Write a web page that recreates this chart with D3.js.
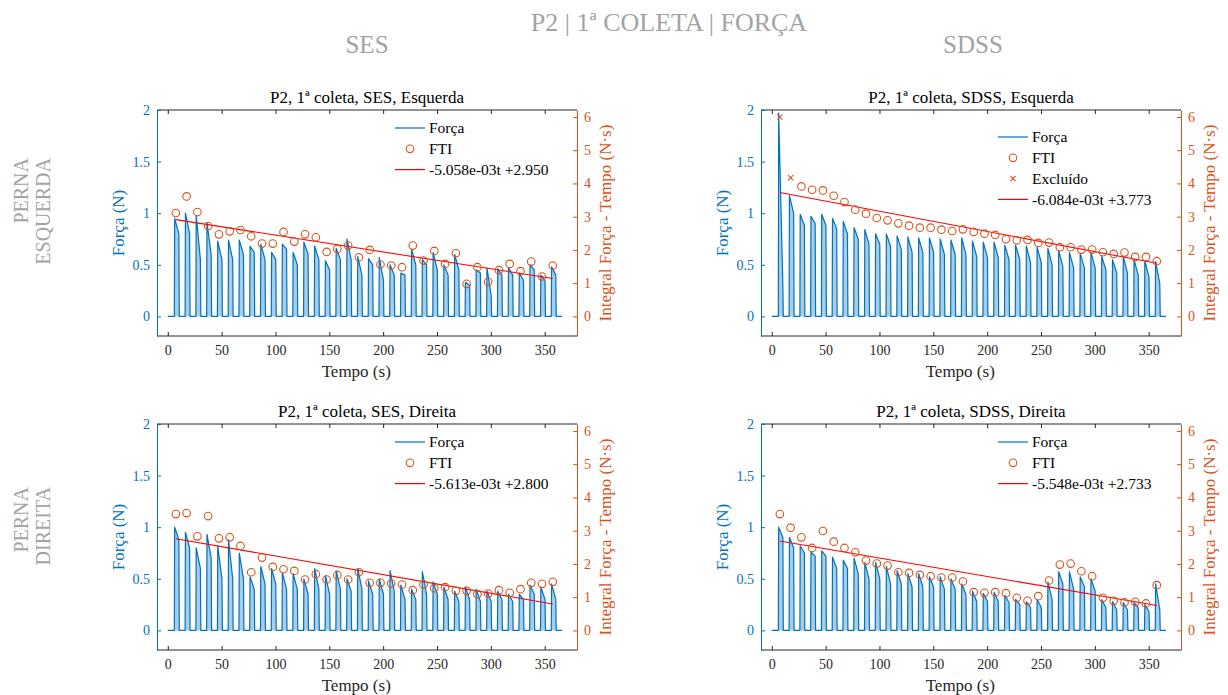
<!DOCTYPE html>
<html>
<head>
<meta charset="utf-8">
<script src="https://cdn.jsdelivr.net/npm/d3@7"></script>
<style>
  body { margin: 0; background: #fff; }
  text { font-family: "Liberation Serif", "DejaVu Serif", serif; }
</style>
</head>
<body>
<svg width="1228" height="695"></svg>
<script>
// cycle times (s), one FTI point per contraction
const cycleT = [7.5, 17.5, 27.5, 37.5, 47.5, 57.5, 67.5, 77.5, 87.5, 97.5, 107.5, 117.5,
  127.5, 137.5, 147.5, 157.5, 167.5, 177.5, 187.5, 197.5, 207.5, 217.5, 227.5, 237.5,
  247.5, 257.5, 267.5, 277.5, 287.5, 297.5, 307.5, 317.5, 327.5, 337.5, 347.5, 357.5];
const xTicks = [0, 50, 100, 150, 200, 250, 300, 350];
const yLeftTicks = [0, 0.5, 1, 1.5, 2];
const yRightTicks = [0, 1, 2, 3, 4, 5, 6];

// SES, Esquerda
const sesEsqPeak = [0.95, 1.00, 0.98, 0.91, 0.73, 0.74, 0.74, 0.68, 0.70, 0.62, 0.70, 0.62, 0.72, 0.68, 0.54, 0.66, 0.75, 0.58,
  0.56, 0.57, 0.50, 0.42, 0.65, 0.55, 0.62, 0.50, 0.60, 0.33, 0.45, 0.47, 0.46, 0.47, 0.42, 0.50, 0.40, 0.48];
const sesEsqEnd = [0.80, 0.80, 0.55, 0.60, 0.55, 0.55, 0.60, 0.62, 0.55, 0.55, 0.65, 0.50, 0.60, 0.55, 0.45, 0.55, 0.55, 0.40,
  0.50, 0.35, 0.40, 0.40, 0.50, 0.50, 0.45, 0.40, 0.45, 0.30, 0.42, 0.20, 0.40, 0.40, 0.35, 0.45, 0.35, 0.40];
const sesEsqFti = [3.11, 3.61, 3.14, 2.72, 2.47, 2.56, 2.60, 2.41, 2.19, 2.19, 2.54, 2.25, 2.47, 2.38, 1.94, 2.03, 2.13, 1.78,
  2.00, 1.56, 1.53, 1.48, 2.13, 1.68, 1.97, 1.58, 1.90, 0.98, 1.48, 1.04, 1.39, 1.58, 1.36, 1.65, 1.20, 1.53];

// SDSS, Esquerda
const sdssEsqPeak = [1.97, 1.17, 0.99, 0.97, 0.99, 0.95, 0.92, 0.86, 0.84, 0.80, 0.80, 0.78, 0.77, 0.76, 0.76, 0.75, 0.74, 0.76,
  0.73, 0.72, 0.72, 0.69, 0.69, 0.68, 0.67, 0.66, 0.64, 0.62, 0.61, 0.62, 0.58, 0.55, 0.58, 0.55, 0.54, 0.53];
const sdssEsqEnd = [0.30, 1.00, 0.88, 0.90, 0.88, 0.85, 0.80, 0.75, 0.70, 0.70, 0.68, 0.65, 0.62, 0.62, 0.62, 0.60, 0.60, 0.60,
  0.58, 0.57, 0.57, 0.55, 0.55, 0.52, 0.52, 0.50, 0.48, 0.47, 0.47, 0.47, 0.45, 0.42, 0.42, 0.40, 0.38, 0.32];
const sdssEsqFti = [null, null, 3.91, 3.81, 3.79, 3.63, 3.44, 3.21, 3.09, 2.96, 2.89, 2.80, 2.73, 2.67, 2.67, 2.61, 2.57, 2.62,
  2.54, 2.49, 2.45, 2.32, 2.29, 2.30, 2.21, 2.22, 2.08, 2.08, 2.01, 2.01, 1.93, 1.88, 1.92, 1.79, 1.79, 1.66];
const sdssEsqExcl = [6.00, 4.17];

// SES, Direita
const sesDirPeak = [1.00, 0.95, 0.80, 0.93, 0.82, 0.88, 0.75, 0.52, 0.62, 0.60, 0.56, 0.55, 0.50, 0.60, 0.53, 0.58, 0.50, 0.60,
  0.48, 0.50, 0.58, 0.44, 0.40, 0.57, 0.47, 0.42, 0.38, 0.42, 0.40, 0.38, 0.38, 0.35, 0.35, 0.44, 0.42, 0.45];
const sesDirEnd = [0.88, 0.80, 0.60, 0.70, 0.50, 0.50, 0.50, 0.40, 0.45, 0.45, 0.40, 0.40, 0.35, 0.40, 0.35, 0.40, 0.38, 0.40,
  0.35, 0.35, 0.38, 0.30, 0.30, 0.35, 0.35, 0.30, 0.28, 0.30, 0.28, 0.28, 0.30, 0.28, 0.30, 0.35, 0.30, 0.30];
const sesDirFti = [3.50, 3.53, 2.83, 3.44, 2.77, 2.80, 2.54, 1.75, 2.19, 1.91, 1.84, 1.79, 1.53, 1.69, 1.53, 1.66, 1.53, 1.75,
  1.43, 1.43, 1.41, 1.38, 1.21, 1.38, 1.27, 1.30, 1.19, 1.19, 1.09, 1.11, 1.21, 1.13, 1.24, 1.43, 1.40, 1.46];

// SDSS, Direita
const sdssDirPeak = [1.00, 0.90, 0.82, 0.76, 0.77, 0.71, 0.68, 0.70, 0.66, 0.66, 0.62, 0.58, 0.55, 0.55, 0.52, 0.52, 0.50, 0.45,
  0.38, 0.36, 0.37, 0.34, 0.30, 0.28, 0.30, 0.47, 0.57, 0.57, 0.52, 0.50, 0.30, 0.28, 0.27, 0.27, 0.25, 0.45];
const sdssDirEnd = [0.90, 0.80, 0.75, 0.72, 0.72, 0.60, 0.60, 0.55, 0.50, 0.50, 0.45, 0.45, 0.42, 0.42, 0.42, 0.40, 0.40, 0.35,
  0.28, 0.28, 0.28, 0.27, 0.25, 0.22, 0.22, 0.30, 0.45, 0.40, 0.42, 0.38, 0.22, 0.20, 0.20, 0.22, 0.18, 0.20];
const sdssDirFti = [3.50, 3.09, 2.80, 2.48, 2.99, 2.67, 2.48, 2.35, 2.10, 2.01, 1.95, 1.75, 1.73, 1.67, 1.63, 1.59, 1.59, 1.47,
  1.15, 1.13, 1.15, 1.12, 0.98, 0.89, 1.03, 1.50, 1.98, 2.01, 1.78, 1.63, 0.98, 0.89, 0.84, 0.86, 0.81, 1.36];

// linear fits: slope, intercept
const fitSlope = [-5.058e-3, -6.084e-3, -5.613e-3, -5.548e-3];
const fitIntercept = [2.950, 3.773, 2.800, 2.733];

const blue = '#0072BD', orange = '#D95319', dark = '#262626', gray = '#a3a3a3';

const panels = [
  {left: 157, top: 110, title: 'P2, 1ª coleta, SES, Esquerda', peak: sesEsqPeak, end: sesEsqEnd, fti: sesEsqFti, excl: null, legX: 395, legY: 128},
  {left: 761, top: 110, title: 'P2, 1ª coleta, SDSS, Esquerda', peak: sdssEsqPeak, end: sdssEsqEnd, fti: sdssEsqFti, excl: sdssEsqExcl, legX: 998, legY: 137},
  {left: 157, top: 424, title: 'P2, 1ª coleta, SES, Direita', peak: sesDirPeak, end: sesDirEnd, fti: sesDirFti, excl: null, legX: 395, legY: 442},
  {left: 761, top: 424, title: 'P2, 1ª coleta, SDSS, Direita', peak: sdssDirPeak, end: sdssDirEnd, fti: sdssDirFti, excl: null, legX: 998, legY: 442}
];
const pw = 420, ph = 226;

const svg = d3.select('svg');

function fmtFit(a, b) {
  const [m, e] = a.toExponential(3).split('e');
  const ee = (e[0] === '-' ? '-' : '+') + String(Math.abs(+e)).padStart(2, '0');
  return `${m}e${ee}t +${b.toFixed(3)}`;
}

panels.forEach((p, k) => {
  const g = svg.append('g').attr('transform', `translate(${p.left},${p.top})`);

  const x = d3.scaleLinear().domain([-10, 380]).range([0, pw]);
  const yL = d3.scaleLinear().domain([-0.19, 2]).range([ph, 0]);
  const yR = d3.scaleLinear().domain([-0.59, 6.21]).range([ph, 0]);

  // force trace: baseline, then each contraction (rise, peak, decay, release)
  const trace = [[0, 0]];
  cycleT.forEach((t, i) => {
    trace.push([t - 1.4, 0], [t - 1.1, p.peak[i]], [t + 2.8, p.end[i]], [t + 3.2, 0]);
  });
  trace.push([366, 0]);
  g.append('path')
    .attr('d', d3.area().x(d => x(d[0])).y0(yL(0)).y1(d => yL(d[1]))(trace))
    .attr('fill', blue).attr('fill-opacity', 0.35).attr('stroke', 'none');
  g.append('path')
    .attr('d', d3.line().x(d => x(d[0])).y(d => yL(d[1]))(trace))
    .attr('fill', 'none').attr('stroke', blue).attr('stroke-width', 1.2)
    .attr('stroke-linejoin', 'round');

  // fit line (right axis)
  const t0 = cycleT[0], t1 = cycleT[cycleT.length - 1];
  g.append('line')
    .attr('x1', x(t0)).attr('y1', yR(fitSlope[k] * t0 + fitIntercept[k]))
    .attr('x2', x(t1)).attr('y2', yR(fitSlope[k] * t1 + fitIntercept[k]))
    .attr('stroke', '#ff0000').attr('stroke-width', 1.1);

  // FTI points
  g.selectAll('circle.fti')
    .data(cycleT.map((t, i) => [t, p.fti[i]]).filter(d => d[1] != null))
    .enter().append('circle')
    .attr('class', 'fti')
    .attr('cx', d => x(d[0])).attr('cy', d => yR(d[1])).attr('r', 3.8)
    .attr('fill', 'none').attr('stroke', orange).attr('stroke-width', 1.1);

  // excluded points
  if (p.excl) {
    p.excl.forEach((v, i) => {
      const cx = x(cycleT[i]), cy = yR(v), s = 2.6;
      g.append('path')
        .attr('d', `M${cx - s},${cy - s}L${cx + s},${cy + s}M${cx - s},${cy + s}L${cx + s},${cy - s}`)
        .attr('stroke', orange).attr('stroke-width', 1.1);
    });
  }

  // axes
  const ax = g.append('g').attr('transform', `translate(0,${ph})`)
    .call(d3.axisBottom(x).tickValues(xTicks).tickSizeInner(-4).tickSizeOuter(0).tickPadding(9));
  ax.selectAll('path,line').attr('stroke', dark);
  ax.selectAll('text').attr('fill', dark).style('font-size', '14px');

  const axTop = g.append('g')
    .call(d3.axisTop(x).tickValues(xTicks).tickSizeInner(-4).tickSizeOuter(0).tickFormat(''));
  axTop.selectAll('path,line').attr('stroke', dark);

  const ayL = g.append('g')
    .call(d3.axisLeft(yL).tickValues(yLeftTicks).tickSizeInner(-4).tickSizeOuter(0).tickPadding(7)
      .tickFormat(d => String(d)));
  ayL.selectAll('path,line').attr('stroke', blue);
  ayL.selectAll('text').attr('fill', blue).style('font-size', '14px');

  const ayR = g.append('g').attr('transform', `translate(${pw},0)`)
    .call(d3.axisRight(yR).tickValues(yRightTicks).tickSizeInner(-4).tickSizeOuter(0).tickPadding(7)
      .tickFormat(d => String(d)));
  ayR.selectAll('path,line').attr('stroke', orange);
  ayR.selectAll('text').attr('fill', orange).style('font-size', '14px');

  ax.select('.domain').attr('d', `M0,0H${pw}`);
  axTop.select('.domain').attr('d', `M0,0H${pw}`);

  // labels
  g.append('text').attr('x', pw / 2).attr('y', -7).attr('text-anchor', 'middle')
    .attr('fill', '#000').style('font-size', '17px').text(p.title);
  g.append('text').attr('x', x(175)).attr('y', ph + 41).attr('text-anchor', 'middle')
    .attr('fill', dark).style('font-size', '17px').text('Tempo (s)');
  g.append('text').attr('transform', `translate(-33,${ph / 2}) rotate(-90)`)
    .attr('text-anchor', 'middle').attr('fill', blue).style('font-size', '17px').text('Força (N)');
  g.append('text').attr('transform', `translate(${pw + 34},${ph / 2}) rotate(-90)`)
    .attr('text-anchor', 'middle').attr('fill', orange).style('font-size', '17px')
    .text('Integral Força - Tempo (N·s)');

  // legend
  const lg = svg.append('g').attr('transform', `translate(${p.legX},${p.legY})`);
  const rows = [{type: 'line', color: blue, label: 'Força'}, {type: 'circle', label: 'FTI'}];
  if (p.excl) rows.push({type: 'x', label: 'Excluído'});
  rows.push({type: 'line', color: '#ff0000', label: fmtFit(fitSlope[k], fitIntercept[k])});
  rows.forEach((r, i) => {
    const yy = i * 20.8;
    if (r.type === 'line') {
      lg.append('line').attr('x1', 0).attr('x2', 30).attr('y1', yy).attr('y2', yy)
        .attr('stroke', r.color).attr('stroke-width', 1.2);
    } else if (r.type === 'circle') {
      lg.append('circle').attr('cx', 15).attr('cy', yy).attr('r', 3.8)
        .attr('fill', 'none').attr('stroke', orange).attr('stroke-width', 1.1);
    } else {
      const s = 2.6;
      lg.append('path').attr('d', `M${15 - s},${yy - s}L${15 + s},${yy + s}M${15 - s},${yy + s}L${15 + s},${yy - s}`)
        .attr('stroke', orange).attr('stroke-width', 1.1);
    }
    lg.append('text').attr('x', 34).attr('y', yy).attr('dy', '0.35em')
      .attr('fill', '#000').style('font-size', '15.5px').text(r.label);
  });
});

// figure headings
svg.append('text').attr('x', 669).attr('y', 31).attr('text-anchor', 'middle')
  .attr('fill', gray).style('font-size', '26px').text('P2 | 1ª COLETA | FORÇA');
svg.append('text').attr('x', 367).attr('y', 53).attr('text-anchor', 'middle')
  .attr('fill', gray).style('font-size', '25px').text('SES');
svg.append('text').attr('x', 973).attr('y', 53).attr('text-anchor', 'middle')
  .attr('fill', gray).style('font-size', '25px').text('SDSS');

const rowLabels = [['PERNA', 'ESQUERDA', 158], ['PERNA', 'DIREITA', 487]];
rowLabels.forEach(([a, b, yTop]) => {
  [a, b].forEach((s, i) => {
    svg.append('text').attr('transform', `translate(${28 + i * 22},${yTop}) rotate(-90)`)
      .attr('text-anchor', 'end').attr('fill', gray).style('font-size', '20px').text(s);
  });
});
</script>
</body>
</html>
